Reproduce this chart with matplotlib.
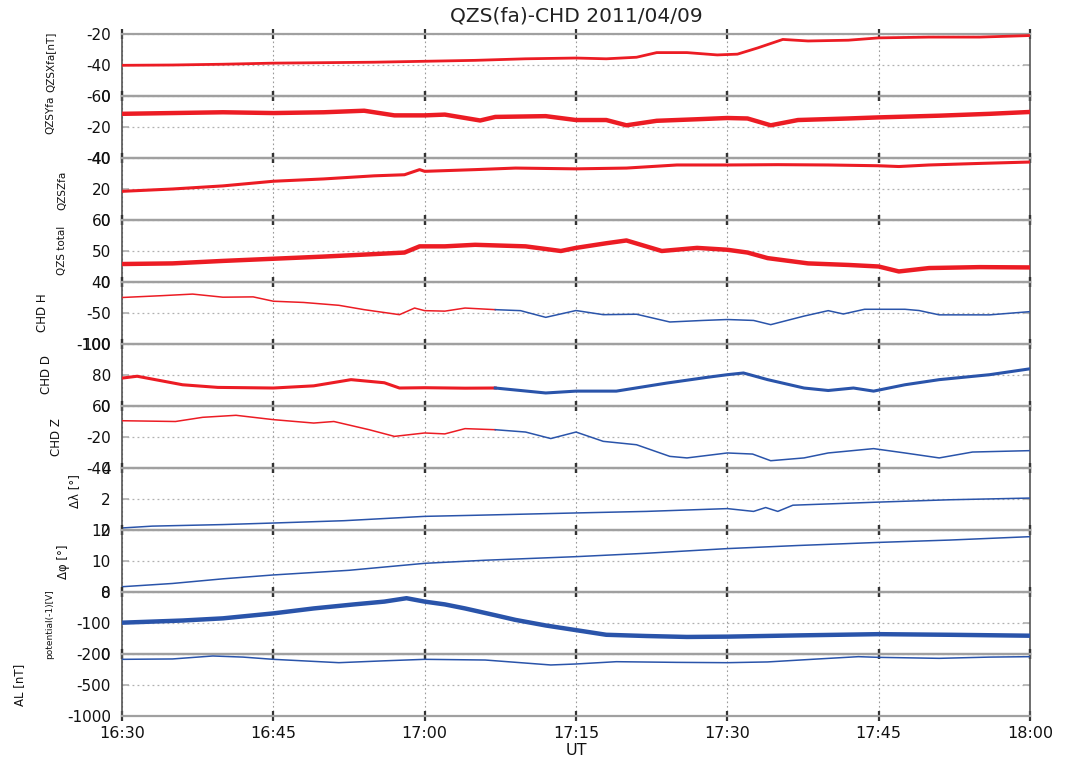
import matplotlib
matplotlib.use("Agg")
import matplotlib.pyplot as plt
import numpy as np

plt.rcParams['font.family'] = ['DejaVu Sans']

# ---------------- data (minutes after 16:30 UT) ----------------
title = "QZS(fa)-CHD 2011/04/09"
xtick_vals = [0, 15, 30, 45, 60, 75, 90]
xtick_labels = ["16:30", "16:45", "17:00", "17:15", "17:30", "17:45", "18:00"]
xlabel = "UT"

qzsx_t = [0, 5, 10, 15, 20, 25, 30, 35, 40, 45, 48, 51, 53, 56, 59, 61, 63, 65.5, 68, 72, 75, 80, 85, 90]
qzsx_v = [-40.2, -40, -39.5, -38.8, -38.5, -38.2, -37.6, -37, -36, -35.5, -36, -35, -32, -32,
          -33.5, -33, -29, -23.5, -24.5, -24, -22.5, -22, -22, -21]

qzsy_t = [0, 5, 10, 15, 20, 24, 27, 30, 32, 35.5, 37, 42, 45, 48, 50, 53, 57, 60, 62, 64.3, 67, 72, 75, 81, 86, 90]
qzsy_v = [-11.5, -11, -10.5, -11, -10.5, -9.5, -12.5, -12.5, -12, -15.8, -13.5, -13, -15.5, -15.5,
          -18.9, -16, -15, -14.2, -14.5, -18.9, -15.5, -14.5, -13.8, -12.7, -11.5, -10.3]

qzsz_t = [0, 5, 10, 15, 20, 25, 28, 29.5, 30, 35, 39, 45, 50, 55, 60, 65, 70, 75, 77, 80, 85, 90]
qzsz_v = [18.5, 20, 22, 25, 26.5, 28.5, 29.2, 32.5, 31.4, 32.5, 33.5, 33, 33.5, 35.5, 35.5, 35.7,
          35.5, 35, 34.5, 35.5, 36.5, 37.4]

qzst_t = [0, 5, 10, 15, 20, 25, 28, 29.5, 32, 35, 40, 43.5, 45, 48, 50, 53.5, 57, 60, 62, 64, 68, 72, 75, 77, 80, 85, 90]
qzst_v = [45.8, 46, 46.8, 47.5, 48.2, 49, 49.5, 51.5, 51.5, 52, 51.5, 50, 51, 52.5, 53.4, 50, 51,
          50.4, 49.5, 47.7, 46, 45.5, 45, 43.4, 44.5, 44.8, 44.7]

chdh_t = [0, 4, 7, 10, 13, 15, 18, 21.5, 24, 27.5, 29, 30, 32, 34, 37, 39.5, 42, 45, 47.7, 51, 54.3,
          57.6, 60, 62.6, 64.3, 67.6, 70, 71.5, 73.6, 77.6, 79, 81, 86, 90]
chdh_v = [-25, -22, -19.5, -24.5, -24, -31, -33, -37.6, -44.6, -52.7, -42, -46.2, -47, -42, -44.6,
          -46.2, -57, -46, -52.7, -52, -64.5, -62, -60.5, -62, -68.8, -55, -46.2, -51.6, -44, -44,
          -46, -53, -53, -47.8]

chdd_t = [0, 1.5, 6, 9.5, 15, 19, 22.7, 26, 27.5, 30, 34, 37, 42, 45, 49, 54, 58, 60, 61.6, 64,
          67.6, 70, 72.5, 74.5, 77.6, 81, 86, 90]
chdd_v = [78, 79.2, 73.7, 72, 71.6, 73, 77, 75, 71.6, 71.8, 71.5, 71.6, 68.4, 69.6, 69.6, 74.8,
          78.5, 80.2, 81.3, 77, 71.6, 70, 71.6, 69.6, 73.7, 77, 80.2, 84]

chdz_t = [0, 5.3, 8, 11.3, 15, 19, 21, 24.5, 27, 30, 32, 34, 37, 40, 42.5, 45, 47.7, 51, 54.3, 56,
          60, 62.5, 64.3, 67.6, 70, 74.5, 77.6, 81, 84.3, 90]
chdz_v = [-9.5, -10, -7.3, -6, -8.8, -11, -10, -15.3, -19.6, -17.4, -18, -14.6, -15.3, -16.8, -21,
          -16.8, -22.8, -25, -32.5, -33.5, -30.3, -31, -35.3, -33.5, -30.3, -27.5, -30.3, -33.5,
          -29.7, -28.8]
chd_red_until = 37  # CHD traces are red before this time, blue after

dlam_t = [0, 3, 10, 15, 22, 30, 35, 45, 52, 60, 62.6, 63.8, 65, 66.5, 75, 82, 90]
dlam_v = [0.13, 0.25, 0.35, 0.45, 0.6, 0.88, 0.95, 1.1, 1.2, 1.38, 1.2, 1.45, 1.2, 1.6, 1.8, 1.95, 2.06]

dphi_t = [0, 5, 10, 15, 22.5, 30, 36, 45, 52, 60, 67, 75, 82, 90]
dphi_v = [8.34, 8.55, 8.85, 9.1, 9.4, 9.85, 10.05, 10.28, 10.5, 10.8, 11.0, 11.2, 11.35, 11.57]

pot_t = [0, 6, 10, 15, 19, 23, 26, 28.2, 30, 32, 34, 37, 39, 42, 45, 48, 52, 56, 60, 67, 75, 82, 90]
pot_v = [-99, -92, -85, -69, -53, -40, -31, -20, -31, -40, -53, -75, -90, -108, -123, -138, -142,
         -145, -144, -140, -136, -138, -141]

al_t = [0, 5, 9, 12, 15, 21.5, 26, 30, 36, 42.5, 45, 49, 55, 60, 64, 69, 73, 75, 81, 86, 90]
al_v = [-86, -80, -32, -50, -86, -140, -110, -86, -97, -177, -161, -124, -135, -140, -128, -80,
        -43, -54, -70, -50, -43]

panel_labels = ["QZSXfa[nT]", "QZSYfa", "QZSZfa", "QZS total", "CHD H", "CHD D", "CHD Z",
                "\u0394\u03bb [\u00b0]", "\u0394\u03c6 [\u00b0]", "potential(-1)[V]", "AL [nT]"]
panel_ticks = [[-60, -40, -20], [-40, -20, 0], [0, 20, 40], [40, 50, 60], [-100, -50, 0],
               [60, 80, 100], [-40, -20, 0], [0, 2, 4], [8, 10, 12], [-200, -100, 0],
               [-1000, -500, 0]]

# ---------------- styling ----------------
RED = '#ec1c24'
BLUE = '#2a54aa'
W, H = 1067, 762
fig = plt.figure(figsize=(W / 100, H / 100), dpi=100)

left_px, right_px = 122, 1030
top_px, panel_h = 34, 62

series = [
    (qzsx_t, qzsx_v, 'red', 2.0),
    (qzsy_t, qzsy_v, 'red', 3.2),
    (qzsz_t, qzsz_v, 'red', 2.2),
    (qzst_t, qzst_v, 'red', 3.2),
    (chdh_t, chdh_v, 'split', 1.1),
    (chdd_t, chdd_v, 'split', 2.2),
    (chdz_t, chdz_v, 'split', 1.1),
    (dlam_t, dlam_v, 'blue', 1.1),
    (dphi_t, dphi_v, 'blue', 1.1),
    (pot_t, pot_v, 'blue', 3.2),
    (al_t, al_v, 'blue', 1.1),
]

# label positions in pixels (x center, y center) and font sizes
label_pos = [(50, 62), (50, 115), (62, 190), (62, 250), (42, 313), (47, 374), (57, 437),
             (75, 491), (63, 562), (50, 624), (20, 685)]
label_fs = [7.5, 7.5, 7.5, 7.5, 8.5, 8.5, 8.5, 8.5, 8.5, 6.5, 8.5]

axes = []
for k, (t, v, col, lw) in enumerate(series):
    ytop = top_px + panel_h * k
    ax = fig.add_axes([left_px / W, 1 - (ytop + panel_h) / H, (right_px - left_px) / W, panel_h / H])
    axes.append(ax)
    t = np.asarray(t, float)
    v = np.asarray(v, float)
    if col == 'split':
        m1 = t <= chd_red_until
        m2 = t >= chd_red_until
        ax.plot(t[m1], v[m1], color=RED, lw=lw, zorder=3)
        ax.plot(t[m2], v[m2], color=BLUE, lw=lw, zorder=3)
    else:
        ax.plot(t, v, color=RED if col == 'red' else BLUE, lw=lw, zorder=3,
                solid_joinstyle='round')
    ticks = panel_ticks[k]
    ax.set_ylim(ticks[0], ticks[-1])
    ax.set_yticks(ticks)
    ax.set_yticklabels([str(x) for x in ticks])
    ax.set_xlim(0, 90)
    ax.set_xticks(xtick_vals)
    ax.grid(True, axis='x', color='#9a9a9a', ls=(0, (1.5, 2.5)), lw=0.8)
    ax.grid(True, axis='y', color='#b0b0b0', ls=(0, (1.5, 2.5)), lw=0.9)
    ax.set_axisbelow(True)
    for s in ['top', 'bottom']:
        ax.spines[s].set_color('#a0a0a0')
        ax.spines[s].set_linewidth(1.6)
    for s in ['left', 'right']:
        ax.spines[s].set_color('#555555')
        ax.spines[s].set_linewidth(1.2)
    ax.tick_params(axis='y', which='both', direction='in', length=5, width=1.2,
                   color='#b0b0b0', left=True, right=True, labelsize=11, pad=8,
                   labelcolor='#111111')
    ax.tick_params(axis='x', direction='inout', length=7, width=1.6, color='#333333',
                   top=True, bottom=True, labelsize=11.5, pad=4, labelcolor='#111111')
    if k < len(series) - 1:
        ax.set_xticklabels([])
    else:
        ax.set_xticklabels(xtick_labels)
        ax.set_xlabel(xlabel, fontsize=11.5, labelpad=1, color='#111111')
    ax.patch.set_alpha(0)

    lx, ly = label_pos[k]
    fig.text(lx / W, 1 - ly / H, panel_labels[k], rotation=90, ha='center', va='center',
             fontsize=label_fs[k], color='#111111')

fig.text(0.54, 1 - 16 / H, title, ha='center', va='center', fontsize=14.5, color='#222222')

fig.savefig("out.png", dpi=100)
